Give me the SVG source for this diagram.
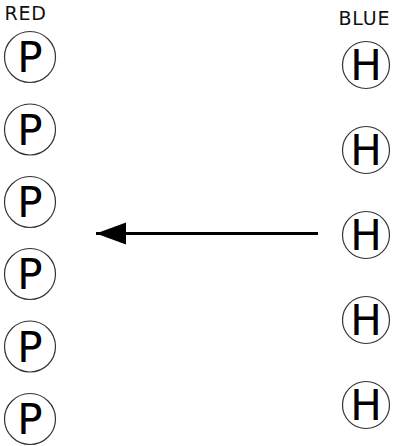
<svg xmlns="http://www.w3.org/2000/svg" width="400" height="446" viewBox="0 0 400 446">
<style>
.c{fill:#fff;stroke:#333;stroke-width:1.2}
.l{font-family:"DejaVu Sans",sans-serif;font-size:42px;fill:#000;text-anchor:middle}
.h{font-family:"DejaVu Sans",sans-serif;font-size:19px;letter-spacing:0.8px;fill:#111}
</style>
<defs>
<marker id="ah" markerUnits="userSpaceOnUse" markerWidth="32" markerHeight="24" refX="30" refY="11" orient="auto">
<path d="M0,0 L30,11 L0,22 Z" fill="#000"/>
</marker>
</defs>
<rect width="400" height="446" fill="#fff"/>
<text class="h" x="4.5" y="19.5">RED</text>
<text class="h" x="338.5" y="24.5">BLUE</text>
<g id="connectors">
<line x1="318" y1="233.5" x2="96" y2="233.5" stroke="#000" stroke-width="3" marker-end="url(#ah)"/>
</g>
<g id="red1"><circle class="c" cx="30" cy="57" r="25.5"/><text class="l" x="30" y="72">P</text></g>
<g id="red2"><circle class="c" cx="30" cy="129.5" r="25.5"/><text class="l" x="30" y="144.5">P</text></g>
<g id="red3"><circle class="c" cx="30" cy="202" r="25.5"/><text class="l" x="30" y="217">P</text></g>
<g id="red4"><circle class="c" cx="30" cy="274" r="25.5"/><text class="l" x="30" y="289">P</text></g>
<g id="red5"><circle class="c" cx="30" cy="346.5" r="25.5"/><text class="l" x="30" y="361.5">P</text></g>
<g id="red6"><circle class="c" cx="30" cy="419" r="25.5"/><text class="l" x="30" y="434">P</text></g>
<g id="blue1"><circle class="c" cx="366" cy="65" r="23.5"/><text class="l" x="366" y="80">H</text></g>
<g id="blue2"><circle class="c" cx="366" cy="150" r="23.5"/><text class="l" x="366" y="165">H</text></g>
<g id="blue3"><circle class="c" cx="366" cy="235" r="23.5"/><text class="l" x="366" y="250">H</text></g>
<g id="blue4"><circle class="c" cx="366" cy="320" r="23.5"/><text class="l" x="366" y="335">H</text></g>
<g id="blue5"><circle class="c" cx="366" cy="405" r="23.5"/><text class="l" x="366" y="420">H</text></g>
</svg>
